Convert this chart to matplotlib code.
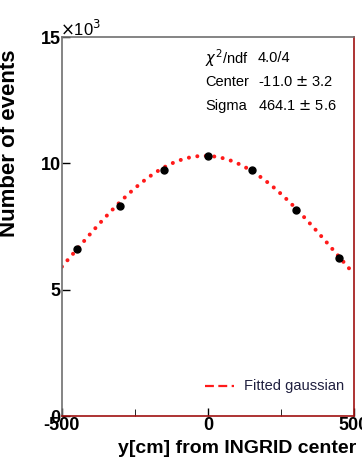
import numpy as np
import matplotlib
matplotlib.use("Agg")
import matplotlib.pyplot as plt

# measured points (y position in cm, events in thousands)
y_pos = [-450, -300, -150, 0, 150, 300, 450]
events_k = [6.61, 8.32, 9.75, 10.28, 9.75, 8.14, 6.25]

# gaussian fit parameters as printed on the plot
fit_amp_k = 10.3
fit_center = -11.0
fit_sigma = 464.1

stats_names = ["$\\chi^2$/ndf", "Center", "Sigma"]
stats_vals = ["4.0/4", "-11.0 $\\pm$ 3.2", "464.1 $\\pm$ 5.6"]

BOLD = ["Liberation Sans", "DejaVu Sans"]
NARROW = ["Liberation Sans Narrow", "Liberation Sans", "DejaVu Sans"]

fig = plt.figure(figsize=(3.62, 4.76), dpi=100)
ax = fig.add_axes([0.171, 0.126, 0.807, 0.796])

xf = np.linspace(-500, 500, 400)
yf = fit_amp_k * np.exp(-(xf - fit_center) ** 2 / (2 * fit_sigma ** 2))
ax.plot(xf, yf, ls=(0, (0.01, 2.1)), color="#ff1a1a", lw=2.9,
        dash_capstyle="round")
ax.plot(y_pos, events_k, "o", color="black", ms=5, zorder=3)

ax.set_xlim(-500, 500)
ax.set_ylim(0, 15)
ax.set_xticks([-500, 0, 500])
ax.set_xticklabels(["-500", "0", "500"])
ax.set_xticks([-250, 250], minor=True)
ax.set_yticks([0, 5, 10, 15])
ax.set_yticklabels(["0", "5", "10", "15"])
ax.tick_params(direction="in", length=6, width=1, labelsize=13, pad=1)
ax.tick_params(which="minor", direction="in", length=5)
ax.tick_params(top=False, right=False)
for lab in ax.get_xticklabels() + ax.get_yticklabels():
    lab.set_fontfamily(BOLD)
    lab.set_fontweight("bold")

for s in ["left", "top"]:
    ax.spines[s].set_color("#707070")
for s in ["right", "bottom"]:
    ax.spines[s].set_color("#a01010")
for s in ax.spines.values():
    s.set_linewidth(1.2)

ax.set_ylabel("Number of events", fontsize=16, fontweight="bold", family=BOLD)
ax.yaxis.set_label_coords(-0.145, 0.72)
ax.set_xlabel("y[cm] from INGRID center", fontsize=14, fontweight="bold", family=BOLD,
              labelpad=4, x=0.6)
ax.text(-0.005, 0.995, "$\\times$10$^3$", transform=ax.transAxes, fontsize=12,
        family=BOLD, va="bottom", ha="left")

for i, (n, v) in enumerate(zip(stats_names, stats_vals)):
    yy = 0.945 - i * 0.064
    ax.text(0.49, yy, n, transform=ax.transAxes, fontsize=10.5, family=NARROW, va="center")
    ax.text(0.67, yy, v, transform=ax.transAxes, fontsize=10.5, family=NARROW, va="center")

ax.plot([0.49, 0.59], [0.08, 0.08], transform=ax.transAxes, color="#ff1a1a", lw=1.6,
        ls=(0, (4, 2)))
ax.text(0.625, 0.08, "Fitted gaussian", transform=ax.transAxes, fontsize=10.5,
        family=NARROW, va="center", color="#202040")

fig.savefig("out.png", dpi=100)
